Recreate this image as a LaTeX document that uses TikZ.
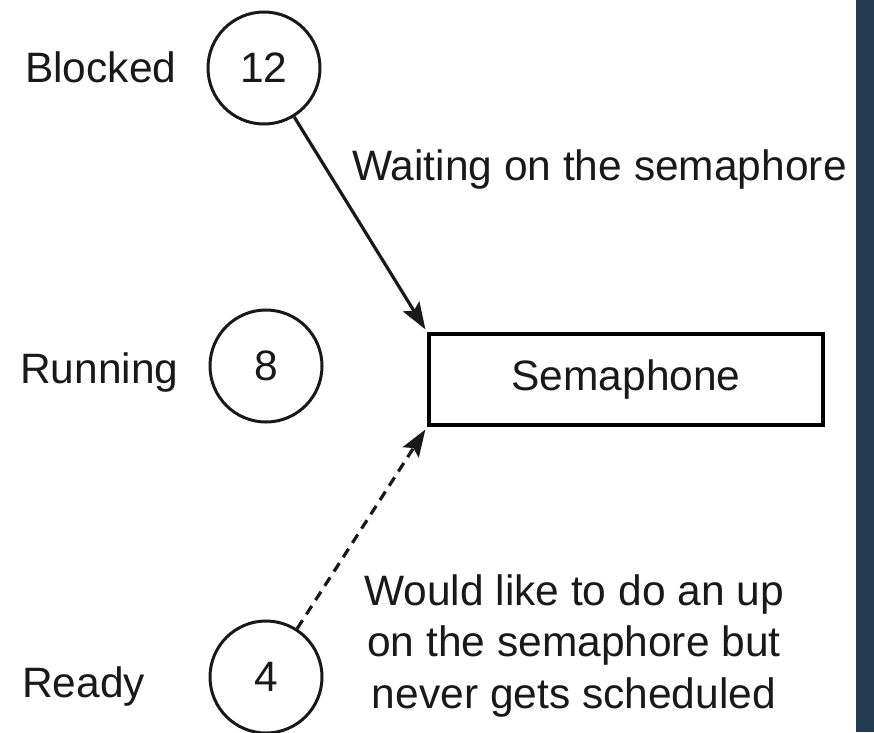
\documentclass[tikz,border=0pt]{standalone}
\usepackage{fontspec}
\setmainfont{Liberation Sans}
\usetikzlibrary{arrows.meta}
\definecolor{strip}{RGB}{36,58,79}
\definecolor{ink}{RGB}{25,25,25}
\tikzset{
  big/.style={font=\fontsize{42.5}{51.5}\selectfont, text=ink},
  proc/.style={circle, draw=ink, line width=3pt, minimum size=112pt, inner sep=0pt, big},
  semabox/.style={rectangle, draw=black, line width=4pt, minimum width=394pt, minimum height=91pt, inner sep=0pt, big},
  lbl/.style={big, inner sep=0pt, anchor=base west},
  tip/.style={-{Stealth[length=27pt,width=19pt,inset=5pt]}, line width=3.2pt, draw=ink},
}
\begin{document}
\begin{tikzpicture}[x=1pt,y=-1pt]
\useasboundingbox (0,0) rectangle (874,732);
\fill[white] (0,0) rectangle (874,732);
\fill[strip] (856,0) rectangle (874,732);

\node[proc] (c12) at (264,68) {12};
\node[proc] (c8) at (266,366) {8};
\node[proc] (c4) at (266,677) {4};
\node[semabox] (sem) at (626,379.5) {Semaphone};

\node[lbl] (lb) at (25,82) {Blocked};
\node[lbl] (lr) at (20,383) {Running};
\node[lbl] (ly) at (22,697) {Ready};
\node[lbl] (lw) at (352,180) {Waiting on the semaphore};
\node[big, align=center, inner sep=0pt, anchor=base] (lu) at (574,708)
  {Would like to do an up\\on the semaphore but\\never gets scheduled};

\draw[tip, shorten >=3pt] (c12) -- (sem.north west);
\draw[tip, dash pattern=on 10pt off 7pt, shorten >=3pt] (c4) -- (sem.south west);
\end{tikzpicture}
\end{document}
